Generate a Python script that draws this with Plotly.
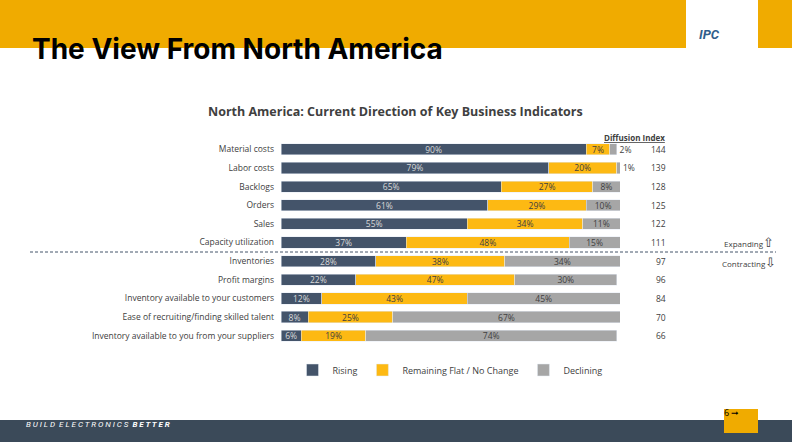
import plotly.graph_objects as go

categories = ["Material costs", "Labor costs", "Backlogs", "Orders", "Sales", "Capacity utilization",
              "Inventories", "Profit margins", "Inventory available to your customers",
              "Ease of recruiting/finding skilled talent", "Inventory available to you from your suppliers"]
rising = [90, 79, 65, 61, 55, 37, 28, 22, 12, 8, 6]
flat = [7, 20, 27, 29, 34, 48, 38, 47, 43, 25, 19]
declining = [2, 1, 8, 10, 11, 15, 34, 30, 45, 67, 74]
diffusion = [144, 139, 128, 125, 122, 111, 97, 96, 84, 70, 66]

W, H = 792, 442
ML, MR, MT, MB = 281, 172, 140, 97
PW, PH = W - ML - MR, H - MT - MB


def px(x):
    return (x - ML) / PW


def py(y):
    return (H - MB - y) / PH


font = "Open Sans"
fig = go.Figure()
series = [("Rising", rising, "#44546A", "#D9D9D9"),
          ("Remaining Flat / No Change", flat, "#FDB913", "#404040"),
          ("Declining", declining, "#A6A6A6", "#404040")]
for name, vals, col, tcol in series:
    pos = ["outside" if (name == "Declining" and v < 5) else "inside" for v in vals]
    fig.add_trace(go.Bar(
        y=categories, x=vals, name=name, orientation="h", marker_color=col,
        text=[f"{v}%" for v in vals], textposition=pos, insidetextanchor="middle",
        constraintext="none", cliponaxis=False,
        textfont=dict(size=8.5, color=tcol, family=font),
        outsidetextfont=dict(size=8.5, color="#404040", family=font),
        hoverinfo="skip"))

ann = []
for c, d in zip(categories, diffusion):
    ann.append(dict(x=px(668), y=c, xref="paper", yref="y", text=str(d), showarrow=False,
                    font=dict(size=8.5, color="#404040", family=font)))
ann += [
    dict(x=px(30), y=py(30), xref="paper", yref="paper", xanchor="left", text="<b>The View From North America</b>",
         showarrow=False, font=dict(size=28, color="#000000", family="Inter")),
    dict(x=px(722), y=py(25), xref="paper", yref="paper", text="<b><i>IPC</i></b>",
         showarrow=False, font=dict(size=13, color="#2F5E8C", family="Roboto")),
    dict(x=px(395), y=py(101), xref="paper", yref="paper", text="<b>North America: Current Direction of Key Business Indicators</b>",
         showarrow=False, font=dict(size=12.5, color="#404040", family=font)),
    dict(x=px(667), y=py(130), xref="paper", yref="paper", text="<b><u>Diffusion Index</u></b>",
         showarrow=False, font=dict(size=8, color="#404040", family=font)),
    dict(x=px(776), y=py(242), xref="paper", yref="paper", xanchor="right", text="Expanding<span style='font-size:13px'>⇧</span>",
         showarrow=False, font=dict(size=8, color="#404040", family=font)),
    dict(x=px(778), y=py(262), xref="paper", yref="paper", xanchor="right", text="Contracting<span style='font-size:13px'>⇩</span>",
         showarrow=False, font=dict(size=8, color="#404040", family=font)),
    dict(x=px(24), y=py(431), xref="paper", yref="paper", xanchor="left",
         text="<i>B U I L D  E L E C T R O N I C S  <b>B E T T E R</b></i>",
         showarrow=False, font=dict(size=8, color="#FFFFFF", family="Roboto")),
    dict(x=px(741), y=py(421), xref="paper", yref="paper", text="6 ➞",
         showarrow=False, font=dict(size=9, color="#000000", family=font)),
]

shapes = [
    dict(type="rect", xref="paper", yref="paper", x0=px(0), x1=px(792), y0=py(0), y1=py(48),
         fillcolor="#F0AB00", line_width=0, layer="below"),
    dict(type="rect", xref="paper", yref="paper", x0=px(686), x1=px(758), y0=py(0), y1=py(48),
         fillcolor="#FFFFFF", line_width=0, layer="below"),
    dict(type="rect", xref="paper", yref="paper", x0=px(0), x1=px(792), y0=py(420), y1=py(442),
         fillcolor="#3B4A59", line_width=0, layer="below"),
    dict(type="rect", xref="paper", yref="paper", x0=px(724), x1=px(758), y0=py(409), y1=py(433),
         fillcolor="#F0AB00", line_width=0),
    dict(type="line", xref="paper", yref="paper", x0=px(30), x1=px(776), y0=py(252), y1=py(252),
         line=dict(color="#44546A", width=1, dash="3px,2px")),
]

fig.update_layout(
    width=W, height=H, barmode="stack", bargap=0.4,
    margin=dict(l=ML, r=MR, t=MT, b=MB),
    paper_bgcolor="white", plot_bgcolor="white",
    uniformtext=dict(minsize=8.5, mode="show"),
    xaxis=dict(range=[0, 100], visible=False),
    yaxis=dict(autorange="reversed", showgrid=False, ticks="", ticklabelstandoff=6,
               tickfont=dict(size=8.5, color="#404040", family=font)),
    legend=dict(orientation="h", x=px(450), xanchor="center", y=py(370), yanchor="middle",
                font=dict(size=9, color="#404040", family=font), itemwidth=30,
                traceorder="normal"),
    annotations=ann, shapes=shapes, showlegend=True,
)

fig.write_html("out.html", config={"displayModeBar": False},
               post_script="document.body.style.margin='0';")
